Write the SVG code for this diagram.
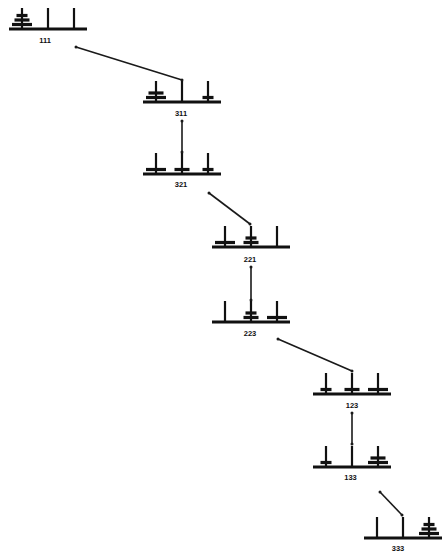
<svg xmlns="http://www.w3.org/2000/svg" xmlns:xlink="http://www.w3.org/1999/xlink" width="444" height="553" viewBox="0 0 444 553">
  <style>
    .base { stroke: #111; stroke-width: 3; fill: none; stroke-linecap: butt; }
    .peg { stroke: #111; stroke-width: 2.2; fill: none; }
    .disk { fill: #111; }
    .lbl { font-family: "Liberation Sans", Arial, sans-serif; font-weight: bold; font-size: 7.5px; fill: #111; text-anchor: middle; }
    .edge { stroke: #1a1a1a; stroke-width: 1.6; fill: none; marker-start: url(#dot); marker-end: url(#dot); }
  </style>
  <defs>
    <!-- three-peg stand, origin at the middle peg foot -->
    <g id="stand">
      <line class="base" x1="-39" y1="0" x2="39" y2="0"/>
      <line class="peg" x1="-26" y1="0" x2="-26" y2="-21"/>
      <line class="peg" x1="0" y1="0" x2="0" y2="-21"/>
      <line class="peg" x1="26" y1="0" x2="26" y2="-21"/>
    </g>
    <!-- disks: 1 small, 2 medium, 3 large; centred on their own origin -->
    <rect id="d1" class="disk" x="-5.5" y="-1.6" width="11" height="3.2"/>
    <rect id="d2" class="disk" x="-7.5" y="-1.6" width="15" height="3.2"/>
    <rect id="d3" class="disk" x="-10" y="-1.6" width="20" height="3.2"/>
    <marker id="dot" markerUnits="userSpaceOnUse" markerWidth="4" markerHeight="4" refX="2" refY="2" viewBox="0 0 4 4">
      <circle cx="2" cy="2" r="1.5" fill="#1a1a1a"/>
    </marker>
  </defs>

  <rect width="444" height="553" fill="#ffffff"/>

  <g id="connectors">
    <line class="edge" x1="76" y1="47" x2="182" y2="80"/>
    <line class="edge" x1="182" y1="121" x2="182" y2="152"/>
    <line class="edge" x1="209" y1="193" x2="250" y2="224"/>
    <line class="edge" x1="251" y1="267" x2="251" y2="300"/>
    <line class="edge" x1="278" y1="339" x2="352" y2="371"/>
    <line class="edge" x1="352" y1="413" x2="352" y2="444"/>
    <line class="edge" x1="380" y1="492" x2="402" y2="515"/>
  </g>

  <g id="n111" transform="translate(48,29)">
    <use xlink:href="#stand"/>
    <use xlink:href="#d3" x="-26" y="-4.5"/>
    <use xlink:href="#d2" x="-26" y="-9"/>
    <use xlink:href="#d1" x="-26" y="-13.5"/>
    <text class="lbl" x="-3" y="14">111</text>
  </g>

  <g id="n311" transform="translate(182,102)">
    <use xlink:href="#stand"/>
    <use xlink:href="#d3" x="-26" y="-4.5"/>
    <use xlink:href="#d2" x="-26" y="-9"/>
    <use xlink:href="#d1" x="26" y="-4.5"/>
    <text class="lbl" x="-1" y="14">311</text>
  </g>

  <g id="n321" transform="translate(182,174)">
    <use xlink:href="#stand"/>
    <use xlink:href="#d3" x="-26" y="-4.5"/>
    <use xlink:href="#d2" x="0" y="-4.5"/>
    <use xlink:href="#d1" x="26" y="-4.5"/>
    <text class="lbl" x="-1" y="13">321</text>
  </g>

  <g id="n221" transform="translate(251,247)">
    <use xlink:href="#stand"/>
    <use xlink:href="#d3" x="-26" y="-4.5"/>
    <use xlink:href="#d2" x="0" y="-4.5"/>
    <use xlink:href="#d1" x="0" y="-9"/>
    <text class="lbl" x="-1" y="15">221</text>
  </g>

  <g id="n223" transform="translate(251,322)">
    <use xlink:href="#stand"/>
    <use xlink:href="#d2" x="0" y="-4.5"/>
    <use xlink:href="#d1" x="0" y="-9"/>
    <use xlink:href="#d3" x="26" y="-4.5"/>
    <text class="lbl" x="-1" y="13.5">223</text>
  </g>

  <g id="n123" transform="translate(352,394)">
    <use xlink:href="#stand"/>
    <use xlink:href="#d1" x="-26" y="-4.5"/>
    <use xlink:href="#d2" x="0" y="-4.5"/>
    <use xlink:href="#d3" x="26" y="-4.5"/>
    <text class="lbl" x="0" y="14">123</text>
  </g>

  <g id="n133" transform="translate(352,467)">
    <use xlink:href="#stand"/>
    <use xlink:href="#d1" x="-26" y="-4.5"/>
    <use xlink:href="#d3" x="26" y="-4.5"/>
    <use xlink:href="#d2" x="26" y="-9"/>
    <text class="lbl" x="-1.5" y="13">133</text>
  </g>

  <g id="n333" transform="translate(403,538)">
    <use xlink:href="#stand"/>
    <use xlink:href="#d3" x="26" y="-4.5"/>
    <use xlink:href="#d2" x="26" y="-9"/>
    <use xlink:href="#d1" x="26" y="-13.5"/>
    <text class="lbl" x="-5" y="12.5">333</text>
  </g>
</svg>
